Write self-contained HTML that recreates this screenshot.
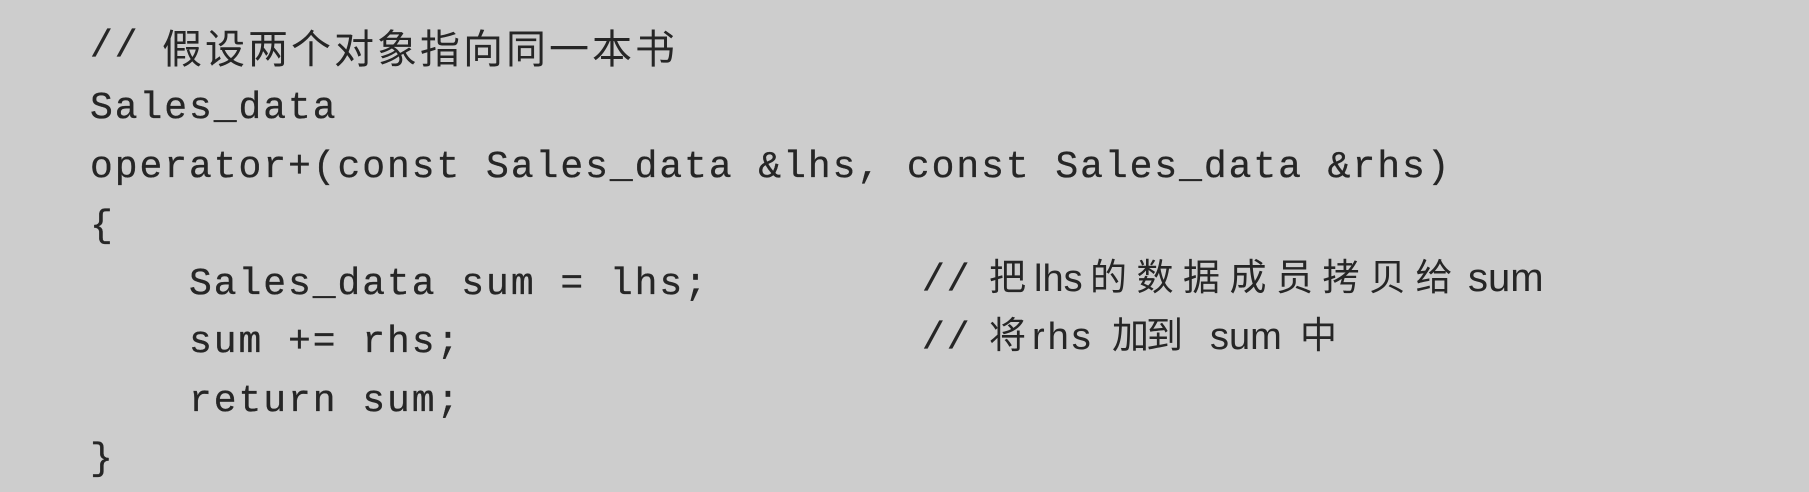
<!DOCTYPE html>
<html><head><meta charset="utf-8"><style>
body{margin:0;width:1809px;height:492px;background:#cdcdcd;overflow:hidden;position:relative;color:#262626}
.l{position:absolute;left:90px;font-family:"Liberation Mono","Noto Sans CJK SC",monospace;font-size:38px;letter-spacing:1.95px;white-space:pre;line-height:1;-webkit-text-stroke:0.3px #262626}
.c{position:absolute;white-space:pre;font-family:"Liberation Mono",monospace;font-size:38px;letter-spacing:1.95px;line-height:1;-webkit-text-stroke:0.3px #262626}
.s{position:absolute;white-space:pre;font-family:"Liberation Sans",sans-serif;font-size:38px;line-height:1}
.z{position:absolute;white-space:pre;font-family:"Noto Sans CJK SC",sans-serif;font-size:37px;letter-spacing:0px;line-height:1}
</style></head><body>
<div class="c" style="left:90px;top:28px">//</div>
<div class="z" style="left:162px;top:26px;font-size:40px;letter-spacing:3px">假设两个对象指向同一本书</div>
<div class="l" style="top:90px">Sales_data</div>
<div class="l" style="top:149px">operator+(const Sales_data &amp;lhs, const Sales_data &amp;rhs)</div>
<div class="l" style="top:208px">{</div>
<div class="l" style="top:266px">    Sales_data sum = lhs;</div>
<div class="l" style="top:324px">    sum += rhs;</div>
<div class="l" style="top:383px">    return sum;</div>
<div class="l" style="top:441px">}</div>

<div class="c" style="left:922px;top:262px">//</div>
<div class="z" style="left:989px;top:256px">把</div>
<div class="s" style="left:1034px;top:260px">lhs</div>
<div class="z" style="left:1090px;top:256px;letter-spacing:9.5px">的数据成员拷贝给</div>
<div class="s" style="left:1468px;top:258px;font-size:40px">sum</div>

<div class="c" style="left:922px;top:320px">//</div>
<div class="z" style="left:989px;top:314px">将</div>
<div class="s" style="left:1032px;top:318px;letter-spacing:3px">rhs</div>
<div class="z" style="left:1112px;top:314px;letter-spacing:-3px">加到</div>
<div class="s" style="left:1210px;top:318px">sum</div>
<div class="z" style="left:1300px;top:314px">中</div>
</body></html>
